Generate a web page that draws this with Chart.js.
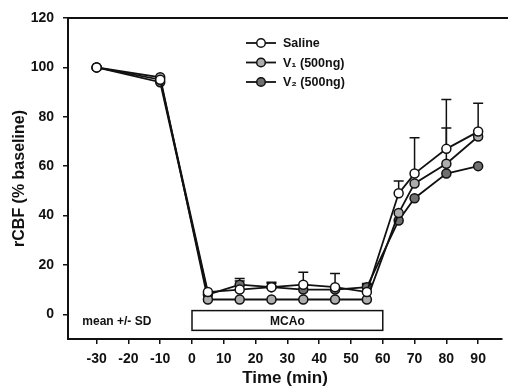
<!DOCTYPE html>
<html>
<head>
<meta charset="utf-8">
<script src="https://cdn.jsdelivr.net/npm/chart.js@4"></script>
<style>
  html, body { margin: 0; padding: 0; background: #fff; overflow: hidden; }
  canvas { display: block; }
</style>
</head>
<body>
<canvas id="chart" width="508" height="389"></canvas>
<script>
// time points (min) and rCBF values (% baseline)
const times = [-30, -10, 5, 15, 25, 35, 45, 55, 65, 70, 80, 90];
const saline = [100, 95, 9, 10, 11, 12, 11, 9, 49, 57, 67, 74];
const v1 = [100, 96, 6, 6, 6, 6, 6, 6, 41, 53, 61, 72];
const v2 = [100, 94, 8, 12, 11, 10, 10, 11, 38, 47, 57, 60];
// upper SD bars
const salineSD = [0, 0, 0, 4.5, 2, 5, 5.5, 3, 5, 14.5, 20, 11.5];
const v1SD = [0, 0, 0, 0, 0, 0, 0, 0, 0, 0, 14.5, 0];
const v2SD = [0, 0, 0, 1.5, 1.5, 0, 0, 1.5, 0, 0, 0, 0];

const xTicks = [-30, -20, -10, 0, 10, 20, 30, 40, 50, 60, 70, 80, 90];
const yTicks = [0, 20, 40, 60, 80, 100, 120];
const seriesNames = ["Saline", "V\u2081 (500ng)", "V\u2082 (500ng)"];
const mcaoStart = 0, mcaoEnd = 60;

const FONT = "'Liberation Sans', Arial, sans-serif";
const INK = "#111";

function pts(vals) {
    return times.map((t, i) => ({ x: t, y: vals[i] }));
}

const errorBars = {
    id: "errorBars",
    beforeDatasetsDraw(chart) {
        const { ctx, scales: { x, y } } = chart;
        ctx.save();
        ctx.strokeStyle = INK;
        ctx.lineWidth = 1.5;
        chart.data.datasets.forEach(ds => {
            ds.data.forEach((p, i) => {
                const sd = ds.sd[i];
                if (!sd) return;
                const px = x.getPixelForValue(p.x);
                const y0 = y.getPixelForValue(p.y);
                const y1 = y.getPixelForValue(p.y + sd);
                ctx.beginPath();
                ctx.moveTo(px, y0);
                ctx.lineTo(px, y1);
                ctx.moveTo(px - 5, y1);
                ctx.lineTo(px + 5, y1);
                ctx.stroke();
            });
        });
        ctx.restore();
    }
};

const extras = {
    id: "extras",
    afterDraw(chart) {
        const { ctx, chartArea, scales: { x, y } } = chart;
        ctx.save();
        // top frame line
        ctx.strokeStyle = INK;
        ctx.lineWidth = 2;
        ctx.beginPath();
        ctx.moveTo(chartArea.left - 1, chartArea.top);
        ctx.lineTo(chart.width, chartArea.top);
        ctx.stroke();

        // MCAo box
        const bx0 = x.getPixelForValue(mcaoStart);
        const bx1 = x.getPixelForValue(mcaoEnd);
        const by0 = y.getPixelForValue(1.5);
        const by1 = y.getPixelForValue(-6.5);
        ctx.fillStyle = "#fff";
        ctx.lineWidth = 1.5;
        ctx.fillRect(bx0, by0, bx1 - bx0, by1 - by0);
        ctx.strokeRect(bx0, by0, bx1 - bx0, by1 - by0);
        ctx.fillStyle = INK;
        ctx.font = "bold 12px " + FONT;
        ctx.textAlign = "center";
        ctx.textBaseline = "middle";
        ctx.fillText("MCAo", (bx0 + bx1) / 2, (by0 + by1) / 2 + 1);

        ctx.textAlign = "left";
        ctx.font = "bold 12px " + FONT;
        ctx.fillText("mean +/- SD", x.getPixelForValue(-34.5), y.getPixelForValue(-2.8));

        // legend
        const lx = 246, ly = 43, gap = 19.5;
        chart.data.datasets.forEach((ds, i) => {
            const yy = ly + i * gap;
            ctx.strokeStyle = INK;
            ctx.lineWidth = 1.8;
            ctx.beginPath();
            ctx.moveTo(lx, yy);
            ctx.lineTo(lx + 30, yy);
            ctx.stroke();
            ctx.beginPath();
            ctx.arc(lx + 15, yy, 4.3, 0, Math.PI * 2);
            ctx.fillStyle = ds.pointBackgroundColor;
            ctx.fill();
            ctx.lineWidth = 1.5;
            ctx.stroke();
            ctx.fillStyle = INK;
            ctx.font = "bold 12.5px " + FONT;
            ctx.textAlign = "left";
            ctx.fillText(seriesNames[i], lx + 37, yy + 1);
        });
        ctx.restore();
    }
};

function makeSet(label, vals, sd, fill) {
    return {
        label: label,
        data: pts(vals),
        sd: sd,
        borderColor: INK,
        borderWidth: 1.8,
        pointBackgroundColor: fill,
        pointBorderColor: INK,
        pointBorderWidth: 1.5,
        pointRadius: 4.5,
        tension: 0
    };
}

new Chart(document.getElementById("chart").getContext("2d"), {
    type: "line",
    data: {
        datasets: [
            makeSet(seriesNames[0], saline, salineSD, "#ffffff"),
            makeSet(seriesNames[1], v1, v1SD, "#adadad"),
            makeSet(seriesNames[2], v2, v2SD, "#707070")
        ]
    },
    options: {
        responsive: false,
        animation: false,
        devicePixelRatio: 1,
        layout: { padding: { left: 6, top: 18, right: 0, bottom: 0 } },
        plugins: {
            legend: { display: false },
            tooltip: { enabled: false }
        },
        scales: {
            x: {
                type: "linear",
                min: -39,
                max: 97.5,
                afterBuildTicks: s => { s.ticks = xTicks.map(v => ({ value: v })); },
                afterFit: s => { s.height = 50; },
                grid: { drawOnChartArea: false, tickLength: 5, color: INK, lineWidth: 1.5 },
                border: { display: true, color: INK, width: 2 },
                ticks: { color: INK, font: { family: FONT, size: 14, weight: "bold" }, padding: 7, maxRotation: 0, autoSkip: false },
                title: { display: true, text: "Time (min)", color: INK, font: { family: FONT, size: 17, weight: "bold" }, padding: { top: 0, bottom: 0 } }
            },
            y: {
                min: -10,
                max: 120,
                afterBuildTicks: s => { s.ticks = yTicks.map(v => ({ value: v })); },
                afterFit: s => { s.width = 62; },
                grid: { drawOnChartArea: false, tickLength: 5, color: INK, lineWidth: 1.5 },
                border: { display: true, color: INK, width: 2 },
                ticks: { color: INK, font: { family: FONT, size: 14, weight: "bold" }, padding: 9 },
                title: { display: true, text: "rCBF (% baseline)", color: INK, font: { family: FONT, size: 16, weight: "bold" }, padding: { top: 4, bottom: 0 } }
            }
        }
    },
    plugins: [errorBars, extras]
});
</script>
</body>
</html>
